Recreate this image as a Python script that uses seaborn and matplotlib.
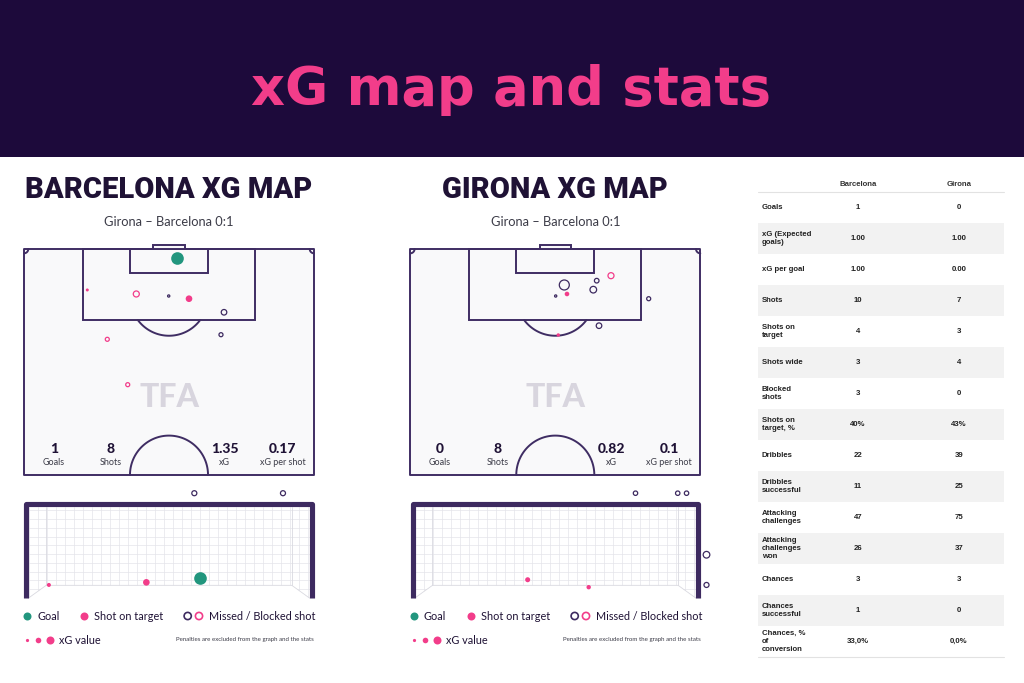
"""
xG map and stats - Girona vs Barcelona
"""

import numpy as np
import pandas as pd
import matplotlib
matplotlib.use('Agg')
import matplotlib.pyplot as plt
from matplotlib.patches import Rectangle, Polygon
import seaborn as sns

sns.set_style('white')
plt.rcParams['font.family'] = ['Lato', 'DejaVu Sans']

W, H = 1024, 683

# cores
NAVY = '#1d0a3b'
PINK = '#f23d8a'
TEAL = '#22967e'
LINE = '#3f2d63'
FRAME = '#3d2a60'
PITCH_BG = '#f9f9fa'
NET = '#e4e4ea'
TEXT = '#1f1235'
GREY_TXT = '#3c3c48'
TABLE_FONT = ['Liberation Sans', 'DejaVu Sans']

# ---------------- dados ----------------
main_title = 'xG map and stats'
match_label = 'Girona – Barcelona 0:1'
panel_titles = ['BARCELONA XG MAP', 'GIRONA XG MAP']
summary_labels = ['Goals', 'Shots', 'xG', 'xG per shot']
barca_summary = ['1', '8', '1.35', '0.17']
girona_summary = ['0', '8', '0.82', '0.1']

# remates no campo: x = metros a partir do centro, y = metros a partir da linha de fundo
barca_shot_x = [1.88, -19.16, -7.67, -0.07, 4.69, 12.90, -14.47, 12.19, -9.68]
barca_shot_y = [2.09, 9.52, 10.45, 10.92, 11.55, 14.70, 20.98, 19.91, 31.52]
barca_shot_xg = [0.62, 0.01, 0.10, 0.002, 0.13, 0.08, 0.03, 0.03, 0.03]
barca_shot_kind = ['goal', 'on target', 'blocked', 'missed', 'on target',
                   'missed', 'blocked', 'missed', 'blocked']

girona_shot_x = [2.11, 2.74, 0.09, 8.91, 9.71, 13.06, 21.90, 10.25, 0.70]
girona_shot_y = [8.36, 10.45, 10.92, 9.45, 7.36, 6.20, 11.55, 17.82, 19.98]
girona_shot_xg = [0.36, 0.046, 0.002, 0.13, 0.046, 0.10, 0.03, 0.08, 0.017]
girona_shot_kind = ['missed', 'on target', 'missed', 'missed', 'missed',
                    'blocked', 'missed', 'missed', 'on target']

# remates na baliza: x = metros do centro da baliza, z = altura em metros
barca_goal_x = [-3.13, -0.59, 0.80, 0.66, 2.97]
barca_goal_z = [0.35, 0.42, 0.54, 2.81, 2.81]
barca_goal_xg = [0.03, 0.13, 0.62, 0.06, 0.06]
barca_goal_kind = ['on target', 'on target', 'goal', 'missed', 'missed']

girona_goal_x = [2.09, 3.19, 3.42, 3.94, 3.94, -0.72, 0.87]
girona_goal_z = [2.81, 2.81, 2.81, 1.16, 0.35, 0.49, 0.29]
girona_goal_xg = [0.04, 0.04, 0.04, 0.13, 0.06, 0.06, 0.04]
girona_goal_kind = ['missed', 'missed', 'missed', 'missed', 'missed',
                    'on target', 'on target']

# tabela
stat_names = ['Goals', 'xG (Expected\ngoals)', 'xG per goal', 'Shots',
              'Shots on\ntarget', 'Shots wide', 'Blocked\nshots',
              'Shots on\ntarget, %', 'Dribbles', 'Dribbles\nsuccessful',
              'Attacking\nchallenges', 'Attacking\nchallenges\nwon', 'Chances',
              'Chances\nsuccessful', 'Chances, %\nof\nconversion']
barca_stats = ['1', '1.00', '1.00', '10', '4', '3', '3', '40%', '22', '11',
               '47', '26', '3', '1', '33,0%']
girona_stats = ['0', '1.00', '0.00', '7', '3', '4', '0', '43%', '39', '25',
                '75', '37', '3', '0', '0,0%']

STYLES = {
    'goal': dict(color=TEAL, facecolors=TEAL, edgecolor=TEAL, linewidth=0),
    'on target': dict(color=PINK, facecolors=PINK, edgecolor=PINK, linewidth=0),
    'blocked': dict(color=PINK, facecolors='none', edgecolor=PINK, linewidth=0.9),
    'missed': dict(color=FRAME, facecolors='none', edgecolor=FRAME, linewidth=0.9),
}


def marker_size(xg):
    r = 0.8 + 7 * np.sqrt(np.asarray(xg, dtype=float))
    return (1.44 * r) ** 2


def px_axes(fig, x0, y0, x1, y1):
    return fig.add_axes([x0 / W, 1 - y1 / H, (x1 - x0) / W, (y1 - y0) / H])


def arc(ax, cx, cy, r, t1, t2, **kw):
    t = np.radians(np.linspace(t1, t2, 100))
    ax.plot(cx + r * np.cos(t), cy + r * np.sin(t), **kw)


def draw_shots(ax, df, xcol, ycol):
    for kind, style in STYLES.items():
        sub = df[df['kind'] == kind]
        if sub.empty:
            continue
        sns.scatterplot(data=sub, x=xcol, y=ycol, s=marker_size(sub['xg']),
                        ax=ax, legend=False, zorder=6, clip_on=False, **style)


def draw_pitch(ax, shots, values):
    lw = 1.4
    ax.add_patch(Rectangle((-34, 0), 68, 52.5, fc=PITCH_BG, ec=LINE, lw=lw,
                           joinstyle='round', zorder=1))
    ax.add_patch(Rectangle((-20.16, 0), 40.32, 16.5, fill=False, ec=LINE, lw=lw, zorder=2))
    ax.add_patch(Rectangle((-9.16, 0), 18.32, 5.5, fill=False, ec=LINE, lw=lw, zorder=2))
    ax.add_patch(Rectangle((-3.66, -1.0), 7.32, 1.0, fc=PITCH_BG, ec=LINE, lw=lw, zorder=2))
    kw = dict(color=LINE, lw=lw, zorder=2)
    arc(ax, 0, 11, 9.15, 37, 143, **kw)
    arc(ax, 0, 52.5, 9.15, 180, 360, **kw)
    arc(ax, -34, 0, 1.0, 0, 90, **kw)
    arc(ax, 34, 0, 1.0, 90, 180, **kw)
    ax.text(0, 34.4, 'TFA', ha='center', va='center', fontsize=23,
            fontweight='black', color='#d8d5de', zorder=1.5)
    for xs, val, lab in zip([-27.0, -13.6, 13.1, 26.7], values, summary_labels):
        ax.text(xs, 46.4, val, ha='center', va='center', fontsize=10,
                fontweight='black', color=TEXT, zorder=3)
        ax.text(xs, 49.7, lab, ha='center', va='center', fontsize=6.5,
                color=GREY_TXT, zorder=3)
    draw_shots(ax, shots, 'x', 'y')
    ax.set_xlim(-34.94, 34.94)
    ax.set_ylim(53.2, -2.09)
    ax.axis('off')


def draw_goal(ax, shots):
    for gx in np.arange(-3.66, 3.67, 0.235):
        ax.plot([gx, gx], [0, 2.44], color=NET, lw=0.5, zorder=1)
    for gz in np.arange(0, 2.45, 0.235):
        ax.plot([-3.66, 3.66], [gz, gz], color=NET, lw=0.5, zorder=1)
    ax.add_patch(Polygon([(-3.9, -0.3), (-3.66, 0), (-3.2, 0.34), (3.2, 0.34),
                          (3.66, 0), (3.9, -0.3)], fc='white', ec='none', zorder=2))
    ax.plot([-3.66, -3.2, 3.2, 3.66], [0, 0.34, 0.34, 0], color='#d9d9e0', lw=0.6, zorder=3)
    ax.plot([-3.2, -3.2], [0.34, 2.44], color='#d9d9e0', lw=0.6, zorder=3)
    ax.plot([3.2, 3.2], [0.34, 2.44], color='#d9d9e0', lw=0.6, zorder=3)
    ax.plot([-3.72, -3.72, 3.72, 3.72], [0, 2.51, 2.51, 0], color=FRAME, lw=3.7,
            solid_joinstyle='round', solid_capstyle='butt', zorder=4)
    draw_shots(ax, shots, 'x', 'z')
    ax.set_xlim(-4.0, 4.0)
    ax.set_ylim(-0.107, 3.03)
    ax.axis('off')


def draw_legend(bg, dx):
    y1, y2 = 616, 640
    fs = 7.8
    bg.scatter(26.7 + dx, y1, s=(1.44 * 4) ** 2, color=TEAL, lw=0)
    bg.text(37 + dx, y1, 'Goal', va='center', fontsize=fs, color=TEXT)
    bg.scatter(84 + dx, y1, s=(1.44 * 4) ** 2, color=PINK, lw=0)
    bg.text(94 + dx, y1, 'Shot on target', va='center', fontsize=fs, color=TEXT)
    bg.scatter(187.7 + dx, y1, s=(1.44 * 3.6) ** 2, facecolors='none', edgecolors=FRAME, lw=1.2)
    bg.scatter(199 + dx, y1, s=(1.44 * 3.6) ** 2, facecolors='none', edgecolors=PINK, lw=1.2)
    bg.text(209 + dx, y1, 'Missed / Blocked shot', va='center', fontsize=fs, color=TEXT)
    for xx, rr in zip([26.5, 38, 49.5], [1.6, 2.8, 4.0]):
        bg.scatter(xx + dx, y2, s=(1.44 * rr) ** 2, color=PINK, lw=0)
    bg.text(59 + dx, y2, 'xG value', va='center', fontsize=fs, color=TEXT)
    bg.text(314 + dx, y2, 'Penalties are excluded from the graph and the stats',
            ha='right', va='center', fontsize=4.4, color=GREY_TXT)


def main():
    fig = plt.figure(figsize=(W / 100, H / 100), dpi=100)
    bg = fig.add_axes([0, 0, 1, 1])
    bg.set_xlim(0, W)
    bg.set_ylim(H, 0)
    bg.axis('off')

    # cabeçalho
    bg.add_patch(Rectangle((0, 0), W, 157, fc=NAVY, ec='none'))
    bg.text(511, 105, main_title, ha='center', va='baseline',
            fontsize=38, fontweight='bold', color=PINK,
            family=['DejaVu Sans'])

    barca_shots = pd.DataFrame({'x': barca_shot_x, 'y': barca_shot_y,
                                'xg': barca_shot_xg, 'kind': barca_shot_kind})
    girona_shots = pd.DataFrame({'x': girona_shot_x, 'y': girona_shot_y,
                                 'xg': girona_shot_xg, 'kind': girona_shot_kind})
    barca_goal = pd.DataFrame({'x': barca_goal_x, 'z': barca_goal_z,
                               'xg': barca_goal_xg, 'kind': barca_goal_kind})
    girona_goal = pd.DataFrame({'x': girona_goal_x, 'z': girona_goal_z,
                                'xg': girona_goal_xg, 'kind': girona_goal_kind})

    panels = [(169.0, barca_shots, barca_goal, barca_summary, panel_titles[0], 0),
              (555.3, girona_shots, girona_goal, girona_summary, panel_titles[1], 387)]
    for cx, shots, goal, summ, title, dx in panels:
        bg.text(cx, 190, title, ha='center', va='center', fontsize=21,
                fontweight='heavy', color=TEXT, family=['Roboto', 'DejaVu Sans'])
        bg.text(cx, 222, match_label, ha='center', va='center', fontsize=9.3,
                color=GREY_TXT)
        ax_p = px_axes(fig, cx - 149, 240, cx + 149, 478)
        draw_pitch(ax_p, shots, summ)
        ax_g = px_axes(fig, cx - 153.5, 485, cx + 153.5, 602)
        draw_goal(ax_g, goal)
        draw_legend(bg, dx)

    # tabela
    left, right = 758, 1004
    top, rh = 192, 31
    col_b, col_g = 858, 959
    tfs = 5.6
    bg.text(col_b, 184, 'Barcelona', ha='center', va='center', fontsize=tfs,
            fontweight='bold', color='#333333', family=TABLE_FONT)
    bg.text(col_g, 184, 'Girona', ha='center', va='center', fontsize=tfs,
            fontweight='bold', color='#333333', family=TABLE_FONT)
    bg.plot([left, right], [top, top], color='#e2e2e2', lw=0.8)
    for i, (name, vb, vg) in enumerate(zip(stat_names, barca_stats, girona_stats)):
        cy = top + rh * (i + 0.5)
        if i % 2 == 1:
            bg.add_patch(Rectangle((left, top + rh * i), right - left, rh,
                                   fc='#f2f2f2', ec='none'))
        bg.text(left + 4, cy, name, ha='left', va='center', fontsize=tfs,
                fontweight='bold', color='#222222', linespacing=1.15,
                family=TABLE_FONT)
        bg.text(col_b, cy, vb, ha='center', va='center', fontsize=tfs,
                fontweight='bold', color='#222222', family=TABLE_FONT)
        bg.text(col_g, cy, vg, ha='center', va='center', fontsize=tfs,
                fontweight='bold', color='#222222', family=TABLE_FONT)
    bg.plot([left, right], [top + rh * len(stat_names)] * 2, color='#e2e2e2', lw=0.8)

    fig.savefig('out.png', dpi=100, facecolor='white')


if __name__ == "__main__":
    main()
